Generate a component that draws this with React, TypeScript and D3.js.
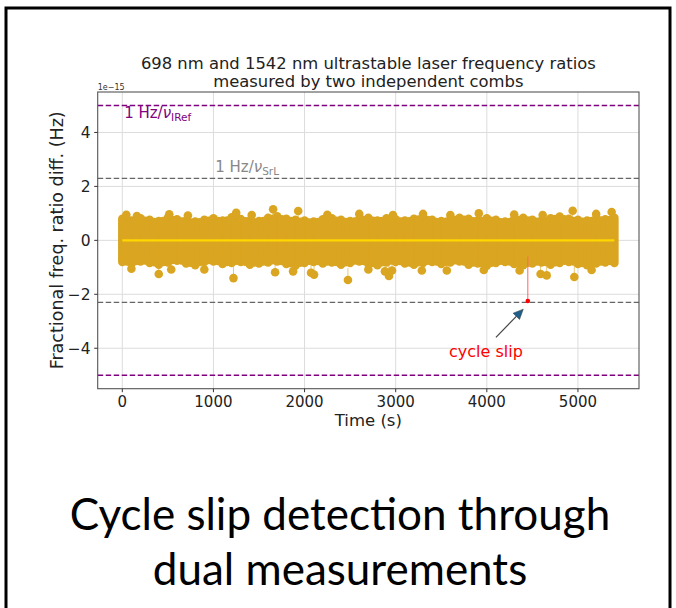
import React from "react";
import * as d3 from "d3";

// ---- data (units of 1e-15) ----
const sampleTimes = [0,100,200,300,400,500,600,700,800,900,1000,1100,1200,1300,1400,1500,1600,1700,1800,1900,2000,2100,2200,2300,2400,2500,2600,2700,2800,2900,3000,3100,3200,3300,3400,3500,3600,3700,3800,3900,4000,4100,4200,4300,4400,4500,4600,4700,4800,4900,5000,5100,5200,5300,5400];
const bandHigh = [0.80,0.74,0.82,0.76,0.72,0.84,0.78,0.74,0.70,0.76,0.82,0.74,0.86,0.79,0.74,0.72,0.84,0.89,0.80,0.76,0.74,0.70,0.78,0.82,0.76,0.72,0.79,0.84,0.74,0.82,0.78,0.74,0.80,0.86,0.76,0.72,0.78,0.84,0.80,0.74,0.82,0.76,0.70,0.78,0.84,0.76,0.74,0.82,0.88,0.80,0.76,0.74,0.82,0.78,0.84];
const bandLow = [-0.80,-0.88,-0.78,-0.84,-0.90,-0.82,-0.76,-0.86,-0.92,-0.80,-0.78,-0.88,-0.84,-0.80,-0.90,-0.86,-0.82,-0.78,-0.88,-0.94,-0.84,-0.80,-0.86,-0.82,-0.90,-0.84,-0.78,-0.88,-0.92,-0.82,-0.80,-0.86,-0.90,-0.84,-0.80,-0.88,-0.82,-0.78,-0.90,-0.86,-0.94,-0.84,-0.80,-0.88,-0.92,-0.86,-0.82,-0.90,-0.84,-0.80,-0.88,-0.92,-0.86,-0.82,-0.84];
const outlierTimes = [44,160,515,720,1250,1420,1655,1930,2250,2600,2970,3300,3600,3912,4300,4613,4942,5200,5370,100,400,537,900,1220,1677,1874,2071,2104,2476,2700,2882,2926,2960,3287,3561,3967,4360,4590,4657,4960,5150];
const outlierValues = [0.95,0.9,0.97,0.92,1.02,0.94,1.15,1.09,0.95,0.98,0.94,0.98,0.94,1.0,0.96,0.94,1.1,0.98,1.05,-1.05,-1.25,-1.08,-1.08,-1.40,-1.18,-1.15,-1.2,-1.27,-1.47,-1.08,-1.15,-1.32,-1.12,-1.12,-1.12,-1.1,-1.12,-1.25,-1.3,-1.36,-1.1];
const meanTimes = [0, 5400];
const meanValues = [0, 0];
const slipTime = 4450;
const slipValue = -2.25;
const slipStemTop = -0.6;
const limitIRef = 5;
const limitSrL = 2.3;
const xTicks = [0, 1000, 2000, 3000, 4000, 5000];
const yTicks = [-4, -2, 0, 2, 4];
const titleLines = ["698 nm and 1542 nm ultrastable laser frequency ratios", "measured by two independent combs"];
const captionLines = ["Cycle slip detection through", "dual measurements"];

const W = 676, H = 608;
const left = 97.7, right = 639, top = 92, bottom = 388.7;
const x = d3.scaleLinear().domain([-270, 5670]).range([left, right]);
const y = d3.scaleLinear().domain([-5.5, 5.5]).range([bottom, top]);

const DOT = "#DAA520";
const FONT = "'DejaVu Sans', sans-serif";

export default function App() {
  const meanLine = d3.line<number>().x((d, i) => x(meanTimes[i])).y((d) => y(d))(meanValues) || "";
  const arrowTail = [x(4100), y(-3.6)];
  const arrowTip = [x(4400), y(-2.55)];
  const ang = Math.atan2(arrowTip[1] - arrowTail[1], arrowTip[0] - arrowTail[0]);
  const hl = 10, hw = 4.5;
  const bx = arrowTip[0] - hl * Math.cos(ang), by = arrowTip[1] - hl * Math.sin(ang);
  const head = `M${arrowTip[0]},${arrowTip[1]} L${bx + hw * Math.sin(ang)},${by - hw * Math.cos(ang)} L${bx - hw * Math.sin(ang)},${by + hw * Math.cos(ang)} Z`;
  return (
    <svg width={W} height={H} style={{ position: "absolute", left: 0, top: 0, background: "#fff" }} fontFamily={FONT}>
      <rect x={6} y={8} width={664} height={H + 20} fill="none" stroke="#000" strokeWidth={3} />
      {/* title */}
      {titleLines.map((t, i) => (
        <text key={i} x={(left + right) / 2} y={68.5 + i * 18.5} textAnchor="middle" fontSize={16.4} fill="#222">{t}</text>
      ))}
      <text x={left} y={89.5} fontSize={8} fill="#333">1e−15</text>
      {/* grid */}
      {xTicks.map((t) => (
        <line key={"gx" + t} x1={x(t)} x2={x(t)} y1={top} y2={bottom} stroke="#dcdcdc" strokeWidth={1} />
      ))}
      {yTicks.map((t) => (
        <line key={"gy" + t} x1={left} x2={right} y1={y(t)} y2={y(t)} stroke="#dcdcdc" strokeWidth={1} />
      ))}
      {/* limit lines */}
      {[limitIRef, -limitIRef].map((v) => (
        <line key={"p" + v} x1={left} x2={right} y1={y(v)} y2={y(v)} stroke="#800080" strokeWidth={1.5} strokeDasharray="5.5,2.5" />
      ))}
      {[limitSrL, -limitSrL].map((v) => (
        <line key={"g" + v} x1={left} x2={right} y1={y(v)} y2={y(v)} stroke="#666" strokeWidth={1.3} strokeDasharray="5.5,2.5" />
      ))}
      {/* annotations */}
      <text x={x(20)} y={y(4.55)} fontSize={15} fill="#800080">
        1 Hz/<tspan fontStyle="italic">ν</tspan><tspan fontSize={10.5} dy={3}>IRef</tspan>
      </text>
      <text x={x(1020)} y={y(2.52)} fontSize={15} fill="#888">
        1 Hz/<tspan fontStyle="italic">ν</tspan><tspan fontSize={10.5} dy={3}>SrL</tspan>
      </text>
      {/* data band */}
      {sampleTimes.map((t, i) => (
        <line key={"b" + t} x1={x(t)} x2={x(t)} y1={y(bandHigh[i])} y2={y(bandLow[i])} stroke={DOT} strokeWidth={8.5} strokeLinecap="round" />
      ))}
      {sampleTimes.slice(0, -1).map((t, i) => (
        <line key={"bm" + t} x1={x(t + 50)} x2={x(t + 50)} y1={y((bandHigh[i] + bandHigh[i + 1]) / 2 - 0.06)} y2={y((bandLow[i] + bandLow[i + 1]) / 2 + 0.06)} stroke={DOT} strokeWidth={8.5} strokeLinecap="round" />
      ))}
      {outlierTimes.map((t, i) => (
        <g key={"o" + i}>
          <line x1={x(t)} x2={x(t)} y1={y(outlierValues[i] * 0.7)} y2={y(outlierValues[i])} stroke={DOT} strokeWidth={1} opacity={0.6} />
          <circle cx={x(t)} cy={y(outlierValues[i])} r={4.3} fill={DOT} />
        </g>
      ))}
      <path d={meanLine} stroke="#FFD700" strokeWidth={2.2} fill="none" />
      {/* cycle slip */}
      <line x1={x(slipTime)} x2={x(slipTime)} y1={y(slipStemTop)} y2={y(slipValue)} stroke="#ff6666" strokeWidth={1} />
      <circle cx={x(slipTime)} cy={y(slipValue)} r={2.3} fill="#ff0000" />
      <line x1={arrowTail[0]} y1={arrowTail[1]} x2={bx} y2={by} stroke="#444" strokeWidth={1.2} />
      <path d={head} fill="#1f5f8b" stroke="#333" strokeWidth={0.5} />
      <text x={x(3990)} y={y(-4.33)} textAnchor="middle" fontSize={16} fill="#ff0000">cycle slip</text>
      {/* spines */}
      <rect x={left} y={top} width={right - left} height={bottom - top} fill="none" stroke="#555" strokeWidth={1.1} />
      {/* axes ticks */}
      {xTicks.map((t) => (
        <g key={"xt" + t}>
          <line x1={x(t)} x2={x(t)} y1={bottom} y2={bottom + 3.5} stroke="#333" />
          <text x={x(t)} y={bottom + 18} textAnchor="middle" fontSize={15} fill="#222">{t}</text>
        </g>
      ))}
      {yTicks.map((t) => (
        <g key={"yt" + t}>
          <line x1={left - 3.5} x2={left} y1={y(t)} y2={y(t)} stroke="#333" />
          <text x={left - 7} y={y(t) + 5.5} textAnchor="end" fontSize={15.5} fill="#222">{t < 0 ? "−" + Math.abs(t) : t}</text>
        </g>
      ))}
      <text x={(left + right) / 2} y={426} textAnchor="middle" fontSize={16.5} fill="#222">Time (s)</text>
      <text transform={`translate(63,${(top + bottom) / 2}) rotate(-90)`} textAnchor="middle" fontSize={17.5} fill="#222">Fractional freq. ratio diff. (Hz)</text>
      {/* caption */}
      {captionLines.map((t, i) => (
        <text key={"c" + i} x={340} y={530 + i * 55} textAnchor="middle" fontSize={44} fill="#000" fontFamily="Lato, 'Open Sans', sans-serif">{t}</text>
      ))}
    </svg>
  );
}
